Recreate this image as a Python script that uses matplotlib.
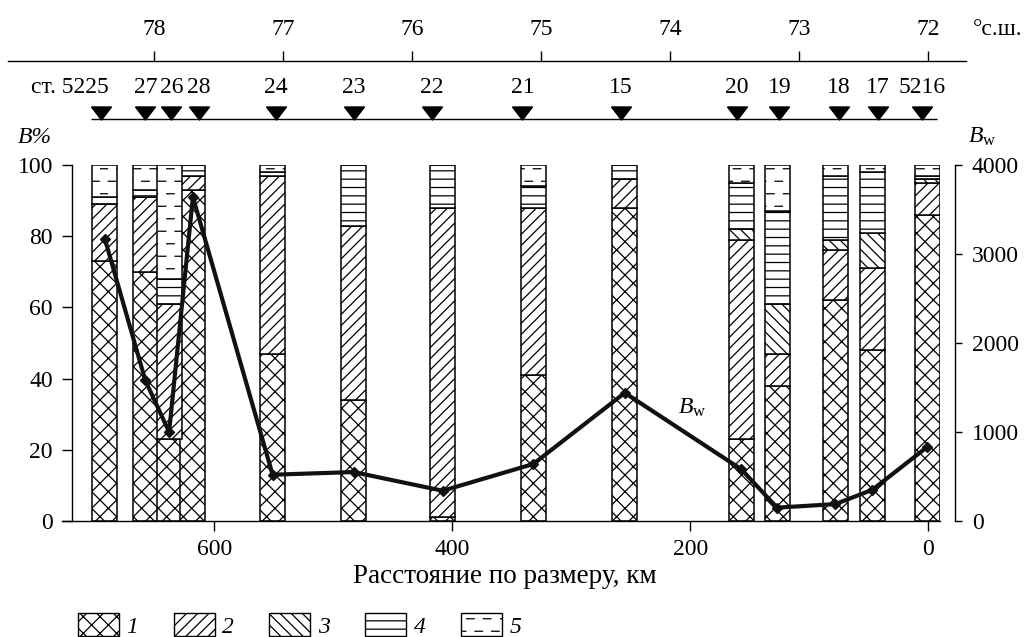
import warnings
import numpy as np
import matplotlib
matplotlib.use("Agg")
import matplotlib.pyplot as plt
from matplotlib import hatch as mhatch
from matplotlib.path import Path
from matplotlib.patches import Patch

warnings.filterwarnings("ignore", message=".*hatch must consist.*")

# --- data -------------------------------------------------------------
# distance along the section, km (bar positions)
dist_km = [692, 658, 638, 618, 551, 483, 408, 332, 255, 157, 127, 78, 47, 1]
# station marks on the top line, km
station_km = [695, 658, 636, 613, 548, 483, 417, 341, 258, 161, 125, 75, 42, 5]
station_lab = ["ст. 5225", "27", "26", "28", "24", "23", "22", "21", "15",
               "20", "19", "18", "17", "5216"]
# composition, % of biomass (groups 1..5)
grp1 = [73, 70, 23, 93, 47, 34, 1, 41, 88, 23, 38, 62, 48, 86]
grp2 = [16, 21, 38, 4, 50, 49, 87, 47, 8, 56, 9, 14, 23, 9]
grp3 = [0, 0, 0, 0, 0, 0, 0, 0, 0, 3, 14, 3, 10, 1]
grp4 = [2, 2, 7, 3, 1, 17, 12, 6, 4, 13, 26, 18, 17, 1]
grp5 = [9, 7, 32, 0, 2, 0, 0, 6, 0, 5, 13, 3, 2, 3]
# total biomass Bw
bw = [3170, 1580, 1000, 3640, 520, 550, 340, 640, 1440, 580, 150, 190, 350, 830]
lat_ticks = [78, 77, 76, 75, 74, 73, 72]
group_labels = ["1", "2", "3", "4", "5"]

KM_PER_DEG = 108.4   # distance for one degree of latitude
LAT0 = 72            # latitude at 0 km


# dashed hatch for group 5 ('_' in the hatch string)
class DashHatch(mhatch.HatchPatternBase):
    dashes = 6

    def __init__(self, hatch, density):
        self.num_rows = hatch.count('_') * 4
        self.num_vertices = self.num_rows * self.dashes * 2

    def set_vertices_and_codes(self, vertices, codes):
        period = 1.0 / self.dashes
        k = 0
        for i in range(self.num_rows):
            y = (i + 0.5) / self.num_rows
            shift = 0.5 * period * (i % 2)
            for j in range(self.dashes):
                x0 = j * period + shift
                vertices[k] = (x0, y)
                vertices[k + 1] = (x0 + 0.45 * period, y)
                codes[k] = Path.MOVETO
                codes[k + 1] = Path.LINETO
                k += 2


mhatch._hatch_types.append(DashHatch)

plt.rcParams['font.family'] = 'Liberation Serif'
plt.rcParams['font.size'] = 17
plt.rcParams['mathtext.fontset'] = 'custom'
plt.rcParams['mathtext.rm'] = 'Liberation Serif'
plt.rcParams['mathtext.it'] = 'Liberation Serif:italic'
plt.rcParams['hatch.linewidth'] = 0.9
plt.rcParams['axes.linewidth'] = 1.0

W, H = 1026, 637
fig = plt.figure(figsize=(W / 100, H / 100), dpi=100)


def fx(px):
    return px / W


def fy(py):
    return 1 - py / H


# layout (pixels)
AX_L, AX_R, AX_B, AX_T = 62, 940, 521, 165
KM_PX = 1.1898
X0_PX = 928.2


def ypct(py):
    return (AX_B - py) / (AX_B - AX_T) * 100


ax = fig.add_axes([fx(AX_L), fy(AX_B), fx(AX_R) - fx(AX_L), fy(AX_T) - fy(AX_B)])
ax.set_xlim((X0_PX - AX_L) / KM_PX, (X0_PX - AX_R) / KM_PX)
ax.set_ylim(0, 100)
ax.patch.set_alpha(0)

hatches = ['xx', '///', '\\\\\\', '--', '__']
groups = [grp1, grp2, grp3, grp4, grp5]
bottom = np.zeros(len(dist_km))
for vals, h in zip(groups, hatches):
    ax.bar(dist_km, vals, width=21, bottom=bottom, color='white',
           edgecolor='black', linewidth=1.1, hatch=h, zorder=2)
    bottom += np.array(vals)

ax.spines['top'].set_visible(False)
ax.spines['right'].set_visible(False)
ax.spines['left'].set_position(('axes', 10 / (AX_R - AX_L)))
ax.set_xticks([600, 400, 200, 0])
ax.set_yticks([0, 20, 40, 60, 80, 100])
ax.tick_params(axis='x', direction='out', length=7.2, width=1, pad=6)
ax.tick_params(axis='y', direction='out', length=7.2, width=1, pad=6.5)
ax.set_xlabel('Расстояние по размеру, км', fontsize=19.5)
ax.xaxis.set_label_coords((505 - AX_L) / (AX_R - AX_L), (AX_B - 564) / (AX_B - AX_T))

ax2 = ax.twinx()
ax2.set_ylim(0, 4000)
ax2.set_yticks([0, 1000, 2000, 3000, 4000])
for s in ['left', 'top', 'bottom']:
    ax2.spines[s].set_visible(False)
ax2.spines['right'].set_position(('axes', (955 - AX_L) / (AX_R - AX_L)))
ax2.tick_params(axis='y', direction='out', length=5, width=1, pad=7)
ax2.plot(dist_km, bw, color='#111111', lw=3, marker='D', ms=5, zorder=5)
ax2.text(198, 1270, r'$B_\mathrm{w}$', ha='center', va='center')

# station marks
tri = [(-1, 0.65), (1, 0.65), (0, -0.65), (-1, 0.65)]
ax.plot(station_km, [ypct(112.7)] * len(station_km), ls='none', marker=tri,
        ms=14.4, color='black', clip_on=False)
ax.hlines(ypct(119), station_km[0] + 8.4, station_km[-1] - 12.6,
          color='black', lw=1, clip_on=False)
for i, (k, lab) in enumerate(zip(station_km, station_lab)):
    if i == 0:
        ax.text(k - 6, ypct(93), lab, ha='right', va='baseline', clip_on=False)
    else:
        ax.text(k, ypct(93), lab, ha='center', va='baseline', clip_on=False)

# latitude scale
def km2lat(k):
    return LAT0 + np.asarray(k) / KM_PER_DEG


def lat2km(lat):
    return (np.asarray(lat) - LAT0) * KM_PER_DEG


secax = ax.secondary_xaxis((AX_B - 61) / (AX_B - AX_T), functions=(km2lat, lat2km))
secax.set_xticks(lat_ticks)
secax.set_xticklabels([str(t) for t in lat_ticks])
secax.tick_params(direction='out', length=7.2, width=1, pad=8)
secax.spines['top'].set_bounds(km2lat((X0_PX - 8) / KM_PX), km2lat((X0_PX - 966) / KM_PX))
fig.text(fx(973), fy(35), '°с.ш.', ha='left', va='baseline')

fig.text(fx(18), fy(143), 'B%', ha='left', va='baseline', style='italic')
fig.text(fx(968), fy(143), r'$B_\mathrm{w}$', ha='left', va='baseline')

handles = [Patch(facecolor='white', edgecolor='black', hatch=h, lw=1) for h in hatches]
fig.legend(handles, group_labels, loc='upper left', bbox_to_anchor=(fx(78), fy(613)),
           ncol=5, frameon=False, handlelength=1.74, handleheight=1.12,
           handletextpad=0.31, columnspacing=1.5, borderpad=0, borderaxespad=0,
           prop=dict(style='italic'))

fig.savefig('out.png', dpi=100)
